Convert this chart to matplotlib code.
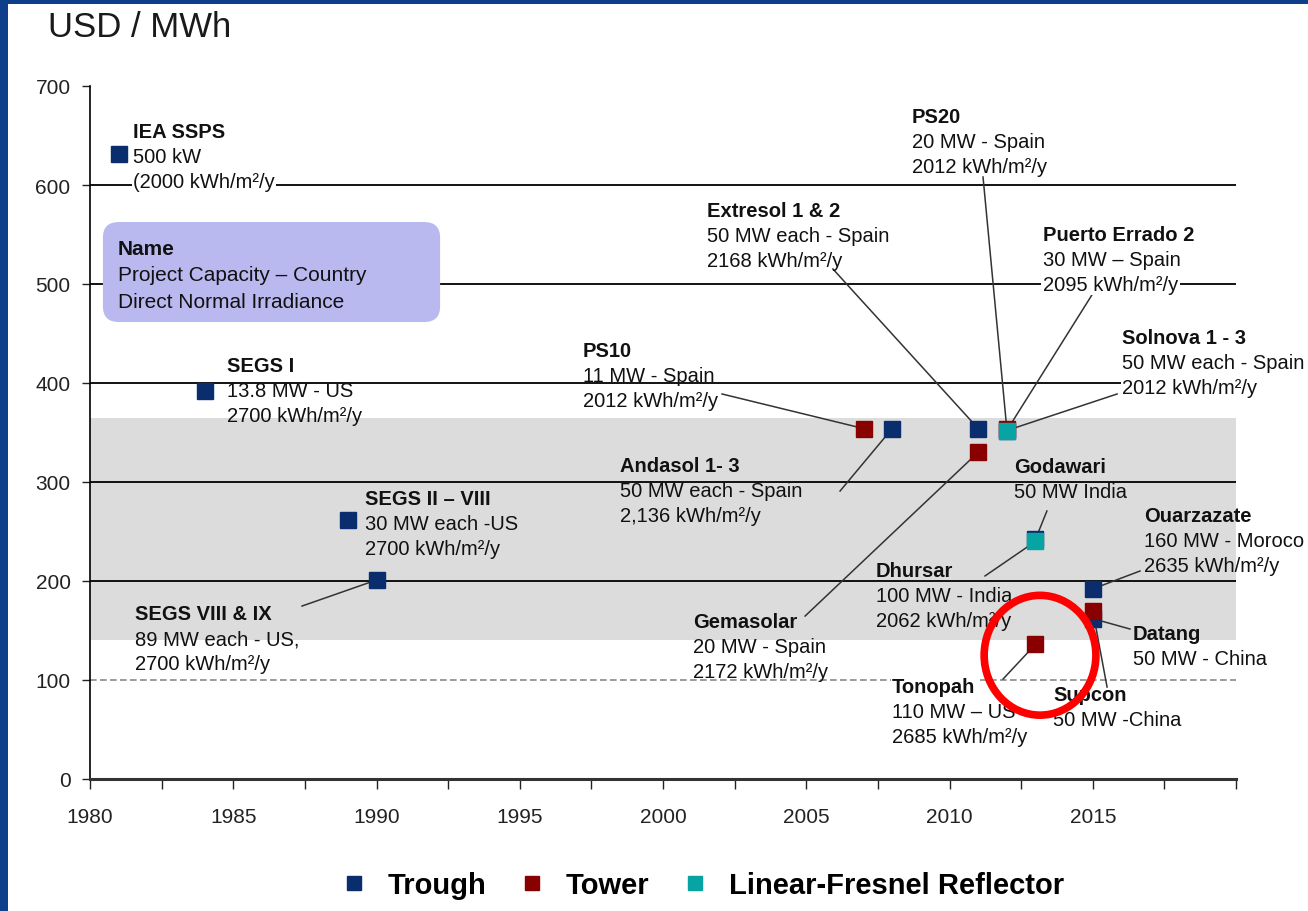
import matplotlib.pyplot as plt
from matplotlib.patches import Ellipse, FancyBboxPatch, Rectangle
from matplotlib.lines import Line2D
from matplotlib.ticker import FixedLocator, FuncFormatter

plt.rcParams['font.family'] = ['Liberation Sans', 'DejaVu Sans']

# CSP projects: name, commissioning year, cost (USD/MWh), technology
names = ['IEA SSPS', 'SEGS I', 'SEGS II – VIII', 'SEGS VIII & IX', 'PS10',
         'Andasol 1- 3', 'Extresol 1 & 2', 'Gemasolar', 'Solnova 1 - 3', 'PS20',
         'Puerto Errado 2', 'Godawari', 'Dhursar', 'Tonopah', 'Ouarzazate',
         'Datang', 'Supcon']
years = [1981, 1984, 1989, 1990, 2007, 2008, 2011, 2011, 2012, 2012,
         2012, 2013, 2013, 2013, 2015, 2015, 2015]
costs = [631, 392, 262, 201, 354, 354, 354, 330, 352, 354,
         352, 242, 240, 136, 192, 162, 170]
techs = ['Trough', 'Trough', 'Trough', 'Trough', 'Tower', 'Trough', 'Trough',
         'Tower', 'Trough', 'Tower', 'LFR', 'Trough', 'LFR', 'Tower', 'Trough',
         'Trough', 'Tower']
details = [
    ['500 kW', '(2000 kWh/m²/y'],
    ['13.8 MW - US', '2700 kWh/m²/y'],
    ['30 MW each -US', '2700 kWh/m²/y'],
    ['89 MW each - US,', '2700 kWh/m²/y'],
    ['11 MW - Spain', '2012 kWh/m²/y'],
    ['50 MW each - Spain', '2,136 kWh/m²/y'],
    ['50 MW each - Spain', '2168 kWh/m²/y'],
    ['20 MW - Spain', '2172 kWh/m²/y'],
    ['50 MW each - Spain', '2012 kWh/m²/y'],
    ['20 MW - Spain', '2012 kWh/m²/y'],
    ['30 MW – Spain', '2095 kWh/m²/y'],
    ['50 MW India'],
    ['100 MW - India', '2062 kWh/m²/y'],
    ['110 MW – US', '2685 kWh/m²/y'],
    ['160 MW - Moroco', '2635 kWh/m²/y'],
    ['50 MW - China'],
    ['50 MW -China'],
]
band_low, band_high = 140, 365
tech_labels = {'Trough': 'Trough', 'Tower': 'Tower', 'LFR': 'Linear-Fresnel Reflector'}
colors = {'Trough': '#0a2d6e', 'Tower': '#880000', 'LFR': '#08a3a3'}

# label layout: (x, baseline of first line), start of leader line, white background
label_pos = [(1981.50, 648.5), (1984.78, 412.1), (1989.60, 277.8), (1981.57, 161.6),
             (1997.21, 427.3), (1998.50, 311.1), (2001.54, 568.7), (2001.05, 153.5),
             (2016.02, 440.4), (2008.69, 663.6), (2013.26, 544.4), (2012.25, 310.1),
             (2007.43, 205.1), (2007.99, 87.9), (2016.79, 260.6), (2016.40, 141.4),
             (2013.61, 79.8)]
leader_from = [None, None, None, (1987.40, 174.7), (2002.06, 388.9), (2006.18, 290.9),
               (2005.93, 515.2), (2004.96, 164.6), (2015.85, 388.9), (2011.17, 608.1),
               (2014.97, 488.9), (2013.40, 270.7), (2011.24, 205.1), (2011.87, 101.0),
               (2016.65, 210.1), (2016.30, 151.5), (2015.50, 92.9)]
white_bg = ['IEA SSPS', 'Puerto Errado 2', 'Solnova 1 - 3', 'Tonopah']

fig = plt.figure(figsize=(13.08, 9.12), dpi=100, facecolor='#0f3e8a')
fig.patches.append(Rectangle((8 / 1308, 0), 1, 1 - 5 / 912, transform=fig.transFigure,
                             facecolor='white', edgecolor='none', zorder=-10))
ax = fig.add_axes([90 / 1308, 1 - 780 / 912, 1146 / 1308, 693 / 912])

ax.axhspan(band_low, band_high, color='#dcdcdc', lw=0, zorder=0)
for v in [200, 300, 400, 500, 600]:
    ax.axhline(v, color='black', lw=1.3, zorder=1)
ax.axhline(100, color='#8a8a8a', lw=1.2, ls=(0, (4, 2)), zorder=1)

# leader lines
for i in range(len(names)):
    if leader_from[i] is not None:
        ax.plot([leader_from[i][0], years[i]], [leader_from[i][1], costs[i]],
                color='#333333', lw=1.1, zorder=2)

# markers, drawn in list order so overlaps match
for i in range(len(names)):
    ax.plot(years[i], costs[i], marker='s', ms=11, color=colors[techs[i]],
            mec=colors[techs[i]], zorder=4)

# labels
for i in range(len(names)):
    x, y = label_pos[i]
    bbox = dict(facecolor='white', edgecolor='none', pad=1) if names[i] in white_bg else None
    lines = [names[i]] + details[i]
    for k, line in enumerate(lines):
        ax.annotate(line, (x, y), xytext=(0, -18 * k), textcoords='offset points',
                    fontsize=14.5, fontweight='bold' if k == 0 else 'normal',
                    color='#111111', va='baseline', ha='left', zorder=5,
                    bbox=bbox, annotation_clip=False)

# key box
key = FancyBboxPatch((1980.45, 461.6), 11.77, 101, boxstyle='round,pad=0,rounding_size=0.55',
                     mutation_aspect=28.94, facecolor='#b9b9f0', edgecolor='none', zorder=3)
ax.add_patch(key)
for k, line in enumerate(['Name', 'Project Capacity – Country', 'Direct Normal Irradiance']):
    ax.annotate(line, (1980.98, 530.3), xytext=(0, -19 * k), textcoords='offset points',
                fontsize=15, fontweight='bold' if k == 0 else 'normal',
                color='#111111', va='baseline', zorder=5)

# highlight circle
ax.add_patch(Ellipse((2013.16, 125), 3.9, 121, fill=False, edgecolor='#ff0000',
                     lw=5.5, zorder=6, clip_on=False))

ax.set_xlim(1980, 2020)
ax.set_ylim(0, 700)
ax.xaxis.set_major_locator(FixedLocator([1980 + 2.5 * k for k in range(17)]))
ax.xaxis.set_major_formatter(FuncFormatter(
    lambda v, p: str(int(v)) if v % 5 == 0 and v < 2020 else ''))
ax.set_yticks(range(0, 701, 100))
ax.tick_params(axis='x', direction='out', length=7, width=1, labelsize=15, pad=13,
               colors='#222222')
ax.tick_params(axis='y', direction='out', length=6, width=1, labelsize=15, pad=8,
               colors='#222222')
for s in ['top', 'right']:
    ax.spines[s].set_visible(False)
ax.spines['left'].set_linewidth(1.2)
ax.spines['bottom'].set_linewidth(2.2)
ax.spines['bottom'].set_color('#333333')
ax.set_facecolor('none')

fig.text(48 / 1308, 1 - 11 / 912, 'USD / MWh', fontsize=25, va='top', ha='left',
         color='#1a1a1a')

handles = [Line2D([], [], marker='s', ls='none', ms=10, color=colors[t]) for t in tech_labels]
fig.legend(handles, list(tech_labels.values()), loc='center', ncol=3,
           bbox_to_anchor=(0.5386, 0.0285), frameon=False,
           prop={'weight': 'bold', 'size': 21}, handlelength=0.6,
           handletextpad=0.85, columnspacing=1.28)

fig.savefig('out.png', dpi=100)
